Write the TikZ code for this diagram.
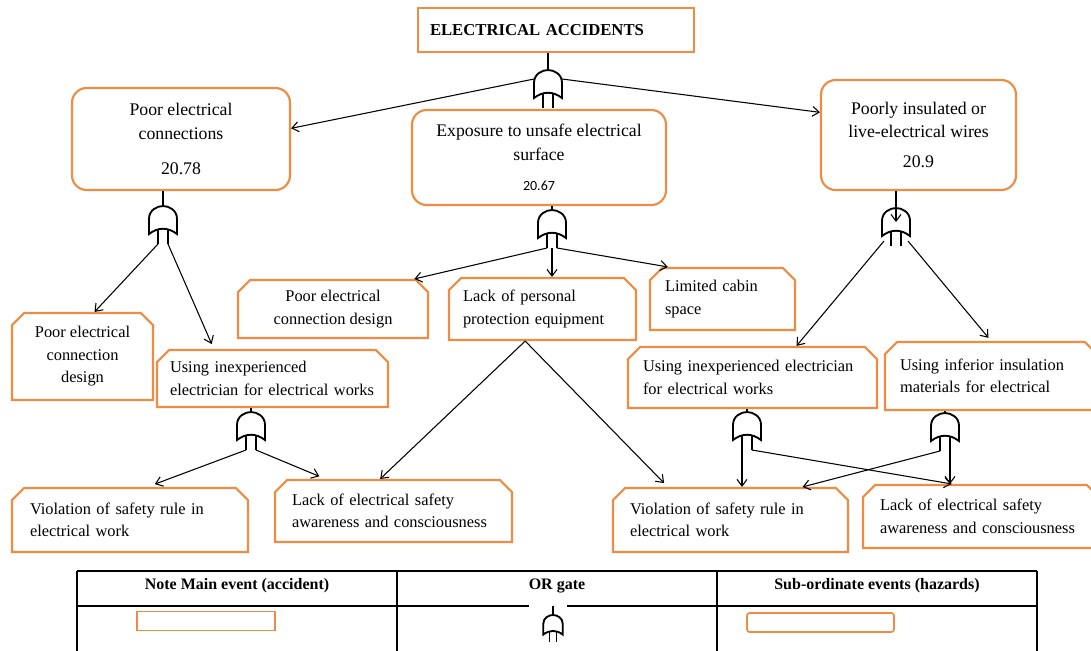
\documentclass[tikz,border=0pt]{standalone}
\usepackage{fontspec}
\setmainfont{Liberation Serif}
\newfontfamily\numfont{Carlito}
\usetikzlibrary{shapes.misc,arrows.meta}
\definecolor{boxorange}{RGB}{237,140,66}

\newcommand\topsize{\fontsize{12.5}{15}\selectfont}
\newcommand\mainsize{\fontsize{13.3}{17.6}\selectfont}
\newcommand\subsize{\fontsize{12.3}{16.9}\selectfont}
\newcommand\legsize{\fontsize{12}{14}\selectfont}

% OR gate drawn from its top point downwards
\tikzset{
  boxdim/.style 2 args={minimum width=#1*0.75pt,minimum height=#2*0.75pt},
  orgate/.pic={
    \draw[line width=1.4pt,fill=white] (-14,28) -- (-14,13) .. controls (-14,4) and (-6,0) .. (0,0)
      .. controls (6,0) and (14,4) .. (14,13) -- (14,28) .. controls (5,21) and (-5,21) .. (-14,28) -- cycle;
    \draw[line width=1.4pt] (-5,23) -- (-5,38) (5,23) -- (5,38);
    \coordinate (-in) at (0,0);
    \coordinate (-mid) at (0,14);
    \coordinate (-sl) at (-14,9);
    \coordinate (-sr) at (14,9);
    \coordinate (-bl) at (-12,33);
    \coordinate (-br) at (12,33);
    \coordinate (-ol) at (-5,38);
    \coordinate (-or) at (5,38);
  }
}

\begin{document}
\begin{tikzpicture}[x=0.75pt,y=-0.75pt,>={Straight Barb[length=5pt,width=7.5pt]}]
  \tikzstyle{event}=[draw=boxorange,line width=1.6pt,fill=white,inner sep=0pt]
  \tikzstyle{mainevent}=[event,rounded corners=11pt,align=center,font=\mainsize]
  \tikzstyle{hazard}=[event,chamfered rectangle,chamfered rectangle corners={north west,north east},
      chamfered rectangle xsep=6pt,font=\subsize]
  \tikzstyle{edge}=[draw,->,line width=0.8pt]
  \tikzstyle{stem}=[draw,line width=1.4pt]
  \tikzstyle{rule}=[draw,line width=1.1pt]

  \useasboundingbox (0,0) rectangle (1091,650);

  % main events
  \node[event,boxdim={276}{44},text width=252*0.75pt,align=left,font=\topsize\bfseries] (ea) at (556,30) {ELECTRICAL ACCIDENTS};
  \node[mainevent,boxdim={218}{102}] (pec) at (181,139) {Poor electrical\\connections\\[9pt]20.78};
  \node[mainevent,boxdim={254}{95}] (eus) at (539,157.5) {Exposure to unsafe electrical\\surface\\[5pt]{\numfont\fontsize{10.5}{12}\selectfont 20.67}};
  \node[mainevent,boxdim={195}{110}] (piw) at (918.5,135) {Poorly insulated or\\live-electrical wires\\[5pt]20.9};

  % hazards
  \node[hazard,boxdim={141}{87},align=center] (lcd1) at (82.5,356.5) {Poor electrical\\connection\\design};
  \node[hazard,boxdim={231}{57},text width=205*0.75pt,align=left] (uie1) at (272.5,378.5) {Using inexperienced\\electrician for electrical works};
  \node[hazard,boxdim={190}{58},align=center] (lcd2) at (333,309) {Poor electrical\\connection design};
  \node[hazard,boxdim={187}{62},text width=159*0.75pt,align=left] (ppe) at (542.5,309) {Lack of personal\\protection equipment};
  \node[hazard,boxdim={145}{62},text width=115*0.75pt,align=left] (lcs) at (722.5,299) {Limited cabin\\space};
  \node[hazard,boxdim={249}{61},text width=219*0.75pt,align=left] (uie2) at (752.5,377.5) {Using inexperienced electrician\\for electrical works};
  \node[hazard,boxdim={212}{68},text width=182*0.75pt,align=left] (uii) at (991,376) {Using inferior insulation\\materials for electrical};
  \node[hazard,boxdim={236}{64},text width=200*0.75pt,align=left] (vsr1) at (130,520) {Violation of safety rule in\\electrical work};
  \node[hazard,boxdim={237}{62},text width=203*0.75pt,align=left] (lse1) at (393.5,511) {Lack of electrical safety\\awareness and consciousness};
  \node[hazard,boxdim={235}{64},text width=201*0.75pt,align=left] (vsr2) at (730.5,520) {Violation of safety rule in\\electrical work};
  \node[hazard,boxdim={236}{63},text width=202*0.75pt,align=left] (lse2) at (981,516.5) {Lack of electrical safety\\awareness and consciousness};

  % gates
  \pic (g0) at (548,70) {orgate};
  \pic (g1) at (163,206) {orgate};
  \pic (g2) at (552,210) {orgate};
  \pic (g3) at (896,208) {orgate};
  \pic (g4) at (251,412) {orgate};
  \pic (g5) at (747,412) {orgate};
  \pic (g6) at (945,413) {orgate};

  \path[stem] (ea.south -| g0-in) -- (g0-in);
  \path[stem] (pec.south -| g1-in) -- (g1-in);
  \path[stem] (eus.south -| g2-in) -- (g2-in);
  \path[stem] (uie1.south -| g4-in) -- (g4-in);
  \path[stem] (uie2.south -| g5-in) -- (g5-in);
  \path[stem] (uii.south -| g6-in) -- (g6-in);
  \path[edge] (piw.south -| g3-in) -- (g3-mid);

  \path[edge] (g0-sl) -- ([yshift=8pt]pec.east);
  \path[edge] (g0-sr) -- ([yshift=17pt]piw.west);

  \path[edge] (g1-ol) -- ([xshift=9pt]lcd1.north);
  \path[edge,shorten >=4pt] (g1-or) -- ([xshift=-44pt]uie1.north);

  \path[edge] (g2-ol) -- ([xshift=61pt]lcd2.north);
  \path[edge] (g2-in |- g2-ol) -- (g2-in |- ppe.north);
  \path[edge] (g2-or) -- ([xshift=-41pt]lcs.north);

  \path[edge] (g3-bl) -- ([xshift=33pt]uie2.north);
  \path[edge,shorten >=3pt] (g3-br) -- (uii.north);

  \path[edge] ([xshift=-13pt]ppe.south) -- ([xshift=-10pt]lse1.north);
  \path[edge,shorten >=4pt] ([xshift=-13pt]ppe.south) -- ([xshift=-47pt]vsr2.north);

  \path[edge,shorten >=6pt] (g4-ol) -- ([xshift=13pt]vsr1.north);
  \path[edge,shorten >=5pt] (g4-or) -- ([xshift=-51pt]lse1.north);

  \path[edge] (g5-ol) -- (g5-ol |- vsr2.north);
  \path[edge] (g5-or) -- ([xshift=-22pt]lse2.north);
  \path[edge] (g6-or) -- (g6-or |- lse2.north);
  \path[edge] (g6-ol) -- ([xshift=54pt]vsr2.north);

  % legend
  \path[rule] (77,571) -- (1037,571);
  \path[rule] (77,606) -- (529,606) (567,606) -- (1037,606);
  \foreach \x in {77,397,717,1037}
    \path[rule] (\x,571) -- (\x,655);
  \node[font=\legsize\bfseries] (hmain) at (237,586) {Note Main event (accident)};
  \node[font=\legsize\bfseries] (hgate) at (557,586) {OR gate};
  \node[font=\legsize\bfseries] (hsub) at (877,586) {Sub-ordinate events (hazards)};
  \node[event,line width=1.3pt,boxdim={138}{19}] (lmain) at (206,621) {};
  \node[event,line width=1.3pt,rounded corners=2pt,boxdim={147}{19}] (lsub) at (820.5,622.5) {};
  \pic[scale=0.7] (lg) at (553,615) {orgate};
  \path[draw,line width=1pt] (553,606) -- (lg-in);
\end{tikzpicture}
\end{document}
